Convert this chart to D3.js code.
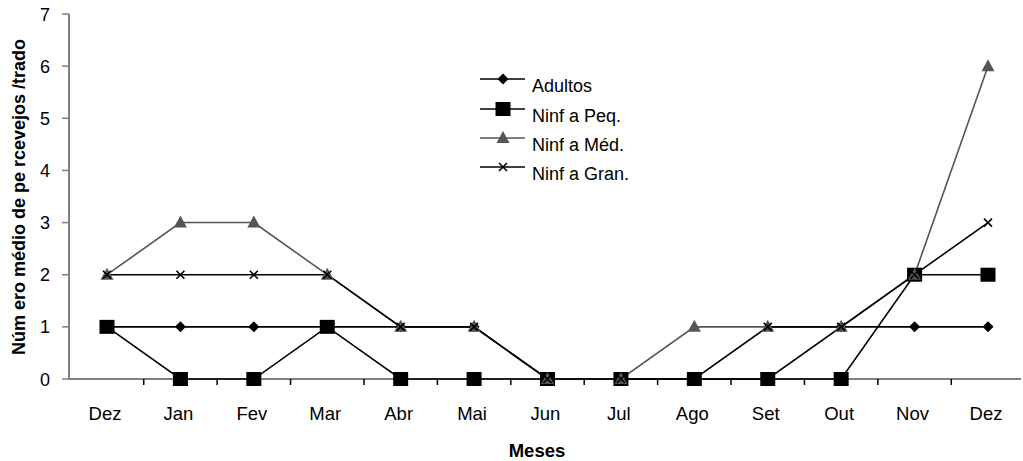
<!DOCTYPE html>
<html><head><meta charset="utf-8">
<script src="https://cdn.jsdelivr.net/npm/d3@7"></script>
<style>body{margin:0;background:#fff}svg{display:block}text{font-family:"Liberation Sans",Arial,sans-serif}</style>
</head><body>
<svg id="c" width="1023" height="461"></svg>
<script>
const months = ["Dez","Jan","Fev","Mar","Abr","Mai","Jun","Jul","Ago","Set","Out","Nov","Dez"];
const adultos = [1,1,1,1,1,1,0,0,0,0,1,1,1];
const ninfaPeq = [1,0,0,1,0,0,0,0,0,0,0,2,2];
const ninfaMed = [2,3,3,2,1,1,0,0,1,1,1,2,6];
const ninfaGran = [2,2,2,2,1,1,0,0,0,1,1,2,3];
const yTicks = [0,1,2,3,4,5,6,7];
const seriesNames = ["Adultos","Ninf a Peq.","Ninf a Méd.","Ninf a Gran."];

const svg = d3.select("#c");
const idx = months.map((m,i)=>i);
const x = d3.scaleBand().domain(idx).range([70.3,1024.7]);
const y = d3.scaleLinear().domain([0,7]).range([379,14]);
const cx = i => x(i) + x.bandwidth()/2;
const axisCol = "#808080";

// x axis
const xa = svg.append("g").attr("transform","translate(0,379)");
xa.append("line").attr("x1",68).attr("x2",1021).attr("stroke",axisCol).attr("stroke-width",2);
xa.selectAll("line.t").data(idx.slice(1)).enter().append("line").attr("class","t")
  .attr("x1",d=>x(d)).attr("x2",d=>x(d)).attr("y1",0).attr("y2",6).attr("stroke","#000").attr("stroke-width",1.5);
xa.selectAll("text").data(idx).enter().append("text")
  .attr("x",d=>cx(d)-2).attr("y",41).attr("text-anchor","middle").attr("font-size",18.5).attr("fill","#000")
  .text(d=>months[d]);

// y axis
const ya = svg.append("g");
ya.append("line").attr("x1",69).attr("x2",69).attr("y1",14).attr("y2",380).attr("stroke",axisCol).attr("stroke-width",2);
ya.selectAll("line.t").data(yTicks).enter().append("line").attr("class","t")
  .attr("x1",62).attr("x2",69).attr("y1",d=>y(d)).attr("y2",d=>y(d)).attr("stroke",axisCol).attr("stroke-width",1.5);
ya.selectAll("text").data(yTicks).enter().append("text")
  .attr("x",45).attr("y",d=>y(d)+6.5).attr("text-anchor","middle").attr("font-size",18).attr("fill","#000").text(d=>d);

// titles
svg.append("text").attr("x",537).attr("y",457).attr("text-anchor","middle").attr("font-size",18.5).attr("font-weight","bold").text("Meses");
svg.append("text").attr("transform","translate(25,197) rotate(-90)").attr("text-anchor","middle")
  .attr("font-size",18).attr("font-weight","bold").text("Núm ero médio de pe rcevejos /trado");

// series
const series = [
  {name:seriesNames[0], vals:adultos, color:"#000", mark:"diamond"},
  {name:seriesNames[1], vals:ninfaPeq, color:"#000", mark:"square"},
  {name:seriesNames[2], vals:ninfaMed, color:"#555", mark:"triangle"},
  {name:seriesNames[3], vals:ninfaGran, color:"#000", mark:"x"}
];
const line = d3.line().x((d,i)=>cx(i)).y(d=>y(d));

function marker(g, type, color){
  if(type==="diamond") g.append("path").attr("d","M0,-5.5 L5.5,0 L0,5.5 L-5.5,0 Z").attr("fill",color);
  if(type==="square") g.append("rect").attr("x",-7.5).attr("y",-7).attr("width",15).attr("height",14).attr("fill",color);
  if(type==="triangle") g.append("path").attr("d","M0,-7 L6.5,5 L-6.5,5 Z").attr("fill",color);
  if(type==="x") g.append("path").attr("d","M-4,-4 L4,4 M-4,4 L4,-4").attr("stroke",color).attr("stroke-width",1.6).attr("fill","none");
}

series.forEach(s=>{
  svg.append("path").datum(s.vals).attr("d",line).attr("fill","none").attr("stroke",s.color).attr("stroke-width",1.6);
});
series.forEach(s=>{
  s.vals.forEach((v,i)=>{
    const g = svg.append("g").attr("transform",`translate(${cx(i)},${y(v)})`);
    marker(g, s.mark, s.color);
  });
});

// legend
const leg = svg.append("g");
const legY = [79,109,138,167];
series.forEach((s,i)=>{
  leg.append("line").attr("x1",480).attr("x2",525).attr("y1",legY[i]).attr("y2",legY[i]).attr("stroke",s.color).attr("stroke-width",1.6);
  const g = leg.append("g").attr("transform",`translate(503,${legY[i]})`);
  marker(g, s.mark, s.color);
  leg.append("text").attr("x",532).attr("y",legY[i]+13).attr("font-size",18).attr("fill","#000").text(s.name);
});
</script>
</body></html>
